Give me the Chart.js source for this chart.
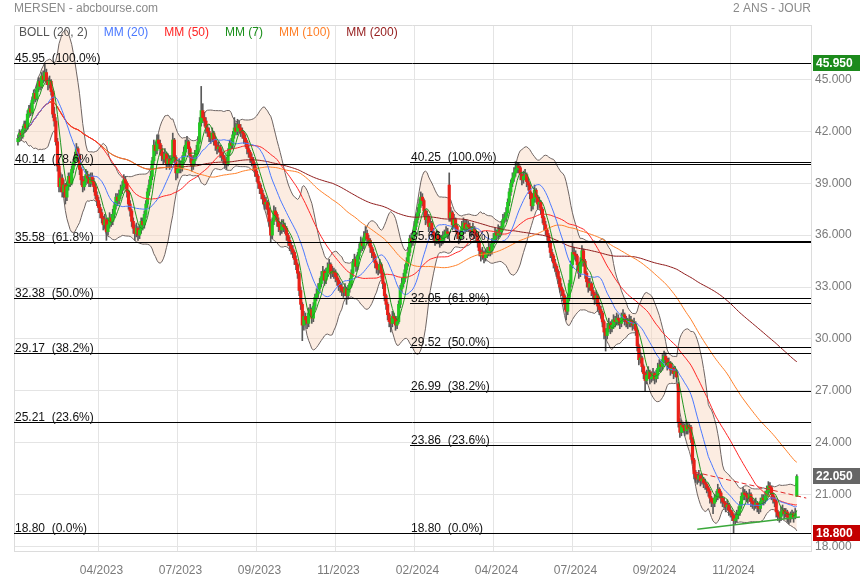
<!DOCTYPE html>
<html>
<head>
<meta charset="utf-8">
<script src="https://cdn.jsdelivr.net/npm/chart.js@4.4.1/dist/chart.umd.min.js"></script>
<style>
  html, body { margin: 0; padding: 0; background: #fff; }
  canvas { display: block; }
</style>
</head>
<body>
<canvas id="chart" width="860" height="580"></canvas>
<script>
// Axis ticks: bar index of each month tick and its label
const tickBars = [51, 101, 151, 201, 251, 301, 351, 401, 451];
const tickLabels = ['04/2023', '07/2023', '09/2023', '11/2023', '02/2024', '04/2024', '07/2024', '09/2024', '11/2024'];
const yTicks = [18, 21, 24, 27, 30, 33, 36, 39, 42, 45];

// Daily candles: [open, high, low, close]
const ohlc = [
  [41.4,41.8,41.2,41.6],[41.6,42.1,41.4,41.9],[41.9,42.0,41.5,41.7],[41.7,42.3,41.6,42.1],[42.1,42.6,41.9,42.4],[42.4,42.6,42.0,42.2],[42.2,43.2,42.1,43.0],[43.0,43.5,42.8,43.3],[43.3,43.6,42.9,43.1],[43.1,44.0,43.0,43.8],
  [43.8,44.4,43.6,44.2],[44.2,44.4,43.7,43.9],[43.9,44.7,43.8,44.5],[44.5,45.1,44.3,44.9],[44.9,45.1,44.4,44.6],[44.6,45.4,44.5,45.2],[45.2,45.5,44.8,45.0],[45.0,45.95,44.9,45.4],[45.4,45.6,44.7,44.9],[44.9,45.1,44.4,44.7],
  [44.7,45.2,44.5,44.9],[44.9,45.0,44.1,44.3],[44.3,44.4,42.8,43.0],[43.0,43.4,42.3,42.6],[42.6,42.8,41.2,41.4],[41.4,41.6,39.7,40.0],[40.0,40.2,38.5,38.8],[38.8,39.6,38.5,39.3],[39.3,39.5,38.2,38.5],[38.5,39.2,38.2,38.9],
  [38.9,39.0,37.8,38.2],[38.2,39.0,38.0,38.8],[38.8,39.6,38.6,39.4],[39.4,39.6,38.8,39.0],[39.0,40.0,38.9,39.8],[39.8,40.4,39.6,40.2],[40.2,40.8,40.0,40.5],[40.5,41.3,40.3,41.0],[41.0,41.1,40.3,40.6],[40.6,40.7,39.5,39.8],
  [39.8,39.9,38.9,39.2],[39.2,39.4,38.5,38.8],[38.8,39.4,38.6,39.1],[39.1,39.8,38.9,39.5],[39.5,39.7,39.0,39.3],[39.3,39.5,38.8,39.0],[39.0,39.6,38.8,39.4],[39.4,39.6,38.9,39.1],[39.1,39.3,38.5,38.8],[38.8,39.0,38.1,38.3],
  [38.3,38.5,37.7,38.0],[38.0,38.2,37.3,37.6],[37.6,37.8,37.0,37.3],[37.3,37.5,36.7,37.0],[37.0,37.1,36.3,36.6],[36.6,37.2,36.4,36.9],[36.9,37.0,35.7,36.2],[36.2,36.9,36.0,36.6],[36.6,37.3,36.4,37.0],[37.0,37.2,36.5,36.8],
  [36.8,37.5,36.6,37.2],[37.2,37.9,37.0,37.7],[37.7,38.4,37.5,38.2],[38.2,38.4,37.7,38.0],[38.0,38.6,37.8,38.3],[38.3,38.9,38.1,38.6],[38.6,39.1,38.4,38.8],[38.8,39.5,38.6,39.2],[39.2,39.4,38.7,39.0],[39.0,39.1,38.2,38.5],
  [38.5,38.6,37.5,37.8],[37.8,38.0,37.1,37.4],[37.4,37.5,36.5,36.8],[36.8,37.0,36.1,36.4],[36.4,36.6,35.7,36.1],[36.1,36.7,35.9,36.4],[36.4,36.5,35.7,36.0],[36.0,36.6,35.8,36.3],[36.3,37.0,36.1,36.8],[36.8,37.0,36.3,36.6],
  [36.6,37.4,36.4,37.2],[37.2,38.0,37.0,37.8],[37.8,38.7,37.6,38.5],[38.5,39.2,38.3,38.9],[38.9,39.7,38.7,39.4],[39.4,40.5,39.2,40.3],[40.3,41.5,40.1,41.2],[41.2,41.4,40.6,40.9],[40.9,41.8,40.7,41.5],[41.5,41.8,41.0,41.3],
  [41.3,41.5,40.7,41.0],[41.0,41.2,40.3,40.6],[40.6,40.8,40.1,40.4],[40.4,41.0,40.2,40.7],[40.7,40.8,39.8,40.1],[40.1,40.7,39.9,40.4],[40.4,40.6,39.8,40.1],[40.1,40.6,39.9,40.3],[40.3,41.9,40.2,41.5],[41.5,41.6,40.2,40.5],
  [40.5,40.6,39.2,39.6],[39.6,40.1,39.3,39.8],[39.8,40.4,39.6,40.1],[40.1,40.3,39.6,39.9],[39.9,40.6,39.7,40.3],[40.3,41.1,40.1,40.8],[40.8,41.5,40.6,41.2],[41.2,41.7,41.0,41.4],[41.4,41.5,40.7,41.0],[41.0,41.1,40.2,40.5],
  [40.5,40.6,39.7,40.0],[40.0,40.6,39.8,40.3],[40.3,40.9,40.1,40.6],[40.6,41.2,40.4,40.9],[40.9,41.7,40.7,41.4],[41.4,42.8,41.3,42.5],[42.5,44.6,42.3,43.2],[43.2,43.6,42.5,42.8],[42.8,43.1,42.3,42.6],[42.6,42.8,41.9,42.2],
  [42.2,42.4,41.7,42.0],[42.0,42.2,41.4,41.7],[41.7,41.9,41.3,41.6],[41.6,42.2,41.4,41.9],[41.9,42.0,41.2,41.5],[41.5,41.7,40.9,41.2],[41.2,41.4,40.7,41.0],[41.0,41.4,40.8,41.1],[41.1,41.2,40.5,40.8],[40.8,41.0,40.3,40.6],
  [40.6,40.8,40.1,40.4],[40.4,40.6,39.9,40.2],[40.2,40.5,39.8,40.1],[40.1,41.0,40.0,40.8],[40.8,41.5,40.6,41.3],[41.3,41.6,41.0,41.2],[41.2,42.0,41.0,41.8],[41.8,42.8,41.6,42.2],[42.2,42.5,41.8,42.0],[42.0,42.7,41.8,42.4],
  [42.4,42.6,41.9,42.2],[42.2,42.4,41.7,42.0],[42.0,42.2,41.6,41.9],[41.9,42.0,41.3,41.6],[41.6,41.8,41.1,41.4],[41.4,41.5,40.7,41.0],[41.0,41.2,40.5,40.8],[40.8,40.9,40.2,40.5],[40.5,40.7,40.0,40.3],[40.3,40.5,39.8,40.1],
  [40.1,40.2,39.4,39.7],[39.7,39.9,39.1,39.4],[39.4,39.5,38.7,39.0],[39.0,39.1,38.4,38.7],[38.7,38.9,38.1,38.4],[38.4,38.6,37.8,38.1],[38.1,38.3,37.5,37.8],[37.8,38.2,37.5,37.9],[37.9,38.0,37.2,37.5],[37.5,37.6,36.5,36.8],
  [36.8,36.9,35.6,36.0],[36.0,37.0,35.8,36.8],[36.8,37.7,36.6,37.4],[37.4,37.6,36.9,37.2],[37.2,37.3,36.5,36.8],[36.8,37.0,36.2,36.5],[36.5,36.7,36.0,36.3],[36.3,36.9,36.1,36.6],[36.6,36.9,36.2,36.5],[36.5,36.7,36.1,36.4],
  [36.4,36.5,35.7,36.0],[36.0,36.1,35.4,35.7],[35.7,35.9,35.1,35.4],[35.4,35.6,34.9,35.2],[35.2,35.4,34.7,35.0],[35.0,35.1,34.3,34.6],[34.6,34.8,34.0,34.3],[34.3,34.4,33.5,33.8],[33.8,33.9,32.5,32.8],[32.8,33.0,31.7,32.0],
  [32.0,32.1,29.9,30.8],[30.8,31.6,30.5,31.3],[31.3,31.5,30.8,31.1],[31.1,31.3,30.6,30.9],[30.9,31.8,30.7,31.5],[31.5,32.0,31.3,31.7],[31.7,31.8,30.9,31.2],[31.2,32.1,31.0,31.9],[31.9,32.6,31.7,32.4],[32.4,32.9,32.2,32.6],
  [32.6,33.2,32.4,32.9],[32.9,33.5,32.7,33.2],[33.2,33.9,33.0,33.6],[33.6,34.2,33.4,33.9],[33.9,34.0,33.1,33.4],[33.4,34.1,33.2,33.8],[33.8,34.4,33.6,34.1],[34.1,34.6,33.9,34.3],[34.3,34.4,33.5,33.8],[33.8,34.2,33.6,33.9],
  [33.9,34.1,33.5,33.8],[33.8,34.0,33.3,33.6],[33.6,33.8,33.1,33.4],[33.4,33.5,32.8,33.1],[33.1,33.3,32.7,33.0],[33.0,33.2,32.5,32.8],[32.8,33.0,32.4,32.7],[32.7,33.2,32.5,32.9],[32.9,33.0,32.0,32.5],[32.5,33.1,32.3,32.9],
  [32.9,33.5,32.7,33.2],[33.2,34.0,33.0,33.8],[33.8,34.6,33.6,34.4],[34.4,34.9,34.2,34.6],[34.6,34.7,33.9,34.2],[34.2,35.0,34.0,34.8],[34.8,35.5,34.6,35.2],[35.2,35.9,35.0,35.6],[35.6,35.8,35.1,35.4],[35.4,36.2,35.2,35.9],
  [35.9,36.5,35.7,36.1],[36.1,36.3,35.5,35.8],[35.8,36.0,35.4,35.7],[35.7,35.8,35.0,35.3],[35.3,35.4,34.7,35.0],[35.0,35.2,34.5,34.8],[34.8,34.9,34.1,34.4],[34.4,34.5,33.8,34.1],[34.1,34.3,33.7,34.0],[34.0,34.6,33.8,34.3],
  [34.3,34.4,33.5,33.8],[33.8,33.9,32.9,33.2],[33.2,33.3,32.2,32.5],[32.5,32.6,31.7,32.0],[32.0,32.1,31.1,31.4],[31.4,31.5,30.7,31.0],[31.0,31.2,30.4,30.9],[30.9,31.6,30.7,31.3],[31.3,31.5,30.9,31.2],[31.2,31.3,30.5,30.8],
  [30.8,31.3,30.6,31.0],[31.0,32.2,30.9,32.0],[32.0,33.1,31.8,32.9],[32.9,33.5,32.7,33.2],[33.2,33.8,33.0,33.5],[33.5,34.3,33.3,34.0],[34.0,34.7,33.8,34.4],[34.4,35.3,34.2,35.0],[35.0,36.0,34.8,35.8],[35.8,36.1,35.3,35.6],
  [35.6,36.3,35.4,36.0],[36.0,36.8,35.8,36.5],[36.5,37.2,36.3,36.9],[36.9,37.6,36.7,37.3],[37.3,38.1,37.1,37.8],[37.8,38.5,37.6,38.2],[38.2,38.4,37.7,38.0],[38.0,38.1,37.1,37.4],[37.4,37.5,36.6,36.9],[36.9,37.4,36.7,37.1],
  [37.1,37.2,36.2,36.5],[36.5,37.0,36.3,36.7],[36.7,36.8,35.9,36.2],[36.2,36.4,35.7,36.0],[36.0,36.1,35.4,35.7],[35.7,36.3,35.5,36.0],[36.0,36.2,35.5,35.8],[35.8,36.0,35.3,35.6],[35.6,36.0,35.4,35.7],[35.7,36.2,35.5,35.9],
  [35.9,36.3,35.7,36.0],[36.0,36.5,35.9,36.2],[36.2,36.4,35.8,36.1],[38.9,39.6,36.8,37.0],[37.0,37.6,36.8,37.3],[37.3,37.4,36.3,36.6],[36.6,37.2,36.4,36.9],[36.9,37.0,36.2,36.5],[36.5,36.6,35.8,36.1],[36.1,36.2,35.5,35.8],
  [35.8,36.3,35.6,36.0],[36.0,36.8,35.8,36.5],[36.5,37.0,36.3,36.7],[36.7,36.9,36.1,36.4],[36.4,36.9,36.2,36.6],[36.6,36.8,36.2,36.5],[36.5,36.7,36.0,36.3],[36.3,36.5,35.9,36.2],[36.2,36.7,36.0,36.4],[36.4,36.5,35.8,36.1],
  [36.1,36.3,35.7,36.0],[36.0,36.1,35.3,35.6],[35.6,35.7,34.8,35.1],[35.1,35.2,34.5,34.8],[34.8,35.3,34.6,35.0],[35.0,35.1,34.4,34.7],[34.7,35.2,34.5,34.9],[34.9,35.3,34.7,35.0],[35.0,35.6,34.8,35.3],[35.3,35.5,34.8,35.1],
  [35.1,35.8,34.9,35.5],[35.5,36.1,35.3,35.8],[35.8,36.4,35.6,36.1],[36.1,36.3,35.7,36.0],[36.0,36.6,35.8,36.3],[36.3,36.5,35.9,36.2],[36.2,36.8,36.0,36.5],[36.5,37.2,36.3,36.9],[36.9,37.3,36.7,37.0],[37.0,37.6,36.8,37.3],
  [37.3,38.1,37.1,37.9],[37.9,38.7,37.7,38.5],[38.5,39.2,38.3,39.0],[39.0,39.6,38.8,39.3],[39.3,39.9,39.1,39.6],[39.6,40.25,39.4,39.8],[39.8,40.2,39.6,40.0],[40.0,40.2,39.6,39.9],[39.9,40.0,39.2,39.5],[39.5,39.6,38.9,39.2],
  [39.2,39.7,39.0,39.4],[39.4,39.8,39.2,39.5],[39.5,39.6,38.8,39.1],[39.1,39.3,38.6,38.9],[38.9,39.0,38.1,38.4],[38.4,38.5,37.4,37.7],[37.7,38.4,37.5,38.1],[38.1,38.9,37.9,38.6],[38.6,38.7,37.9,38.2],[38.2,38.3,37.5,37.8],
  [37.8,38.2,37.6,37.9],[37.9,38.0,37.2,37.5],[37.5,37.6,36.7,37.0],[37.0,37.1,36.3,36.6],[36.6,36.8,36.0,36.3],[36.3,36.4,35.7,36.0],[36.0,36.1,35.3,35.6],[35.6,35.7,34.7,35.0],[35.0,35.2,34.5,34.8],[34.8,34.9,34.1,34.4],
  [34.4,34.6,33.9,34.2],[34.2,34.3,33.6,33.9],[33.9,34.0,33.2,33.5],[33.5,33.6,32.7,33.0],[33.0,33.2,32.5,32.8],[32.8,32.9,32.2,32.5],[32.5,32.6,31.7,32.0],[32.0,32.1,31.1,31.6],[31.6,32.6,31.4,32.4],[32.4,33.4,32.2,33.2],
  [33.2,34.5,33.0,34.3],[34.3,35.6,34.1,35.0],[35.0,35.3,34.6,34.9],[34.9,35.1,34.5,34.8],[34.8,34.9,34.0,34.3],[34.3,34.4,33.5,33.8],[33.8,34.7,33.6,34.4],[34.4,35.4,34.2,35.1],[35.1,35.2,34.2,34.5],[34.5,34.6,33.5,33.8],
  [33.8,33.9,33.0,33.3],[33.3,33.5,32.7,33.0],[33.0,33.5,32.8,33.2],[33.2,33.3,32.5,32.8],[32.8,33.0,32.3,32.6],[32.6,32.7,32.0,32.3],[32.3,32.8,32.1,32.5],[32.5,32.6,31.6,31.9],[31.9,32.1,31.4,31.7],[31.7,31.9,31.2,31.5],
  [31.5,31.6,30.7,31.0],[31.0,31.1,30.0,30.4],[30.4,30.6,29.3,30.2],[30.2,30.9,30.0,30.6],[30.6,31.2,30.4,30.9],[30.9,31.0,30.3,30.6],[30.6,31.1,30.4,30.8],[30.8,31.4,30.6,31.1],[31.1,31.3,30.7,31.0],[31.0,31.5,30.8,31.2],
  [31.2,31.4,30.8,31.1],[31.1,31.2,30.6,30.9],[30.9,31.5,30.7,31.2],[31.2,31.7,31.0,31.4],[31.4,31.5,30.8,31.1],[31.1,31.3,30.7,31.0],[31.0,31.2,30.6,30.9],[30.9,31.4,30.7,31.1],[31.1,31.3,30.7,31.0],[31.0,31.1,30.5,30.8],
  [30.8,31.2,30.6,30.9],[30.9,31.0,30.2,30.5],[30.5,30.6,29.3,29.6],[29.6,29.7,28.5,28.8],[28.8,29.2,28.6,28.9],[28.9,29.0,28.1,28.4],[28.4,28.5,27.7,28.0],[28.0,28.1,27.0,27.6],[27.6,28.2,27.4,27.9],[27.9,28.4,27.7,28.1],
  [28.1,28.2,27.4,27.7],[27.7,28.1,27.5,27.8],[27.8,28.3,27.6,28.0],[28.0,28.1,27.4,27.7],[27.7,28.2,27.5,27.9],[27.9,28.6,27.7,28.3],[28.3,28.8,28.1,28.5],[28.5,28.7,28.1,28.4],[28.4,29.1,28.2,28.8],[28.8,29.3,28.6,29.0],
  [29.0,29.2,28.5,28.8],[28.8,28.9,28.2,28.5],[28.5,28.9,28.3,28.6],[28.6,28.7,27.9,28.2],[28.2,28.6,28.0,28.3],[28.3,28.4,27.7,28.0],[28.0,28.4,27.8,28.1],[28.1,28.2,27.5,27.8],[27.4,27.5,24.9,25.2],[25.2,25.4,24.3,24.6],
  [24.6,25.3,24.4,25.0],[25.0,25.2,24.6,24.9],[24.9,25.1,24.4,24.7],[24.7,25.3,24.5,25.0],[25.0,25.2,24.5,24.8],[24.8,25.1,24.6,24.9],[24.9,25.0,24.0,24.2],[24.2,24.3,22.8,23.0],[23.0,23.1,21.9,22.2],[22.2,22.4,21.7,22.0],
  [22.0,22.2,21.6,21.9],[21.9,22.4,21.7,22.1],[22.1,22.2,21.5,21.8],[21.8,22.2,21.6,21.9],[21.9,22.0,21.4,21.7],[21.7,21.9,21.3,21.6],[21.6,21.7,21.1,21.4],[21.4,21.5,20.9,21.2],[21.2,21.3,20.5,20.8],[20.8,20.9,20.3,20.6],
  [20.6,20.8,19.9,20.5],[20.5,21.0,20.3,20.8],[20.8,21.2,20.6,20.9],[20.9,21.6,20.7,21.3],[21.3,21.4,20.8,21.1],[21.1,21.2,20.5,20.8],[20.8,20.9,20.3,20.6],[20.6,20.8,20.2,20.5],[20.5,20.6,20.0,20.3],[20.3,20.7,20.1,20.4],
  [20.4,20.5,19.8,20.1],[20.1,20.3,19.7,20.0],[20.0,20.1,19.5,19.8],[19.8,19.9,18.8,19.5],[19.5,19.9,19.3,19.6],[19.6,20.1,19.4,19.8],[19.8,20.3,19.6,20.0],[20.0,20.6,19.8,20.4],[20.4,21.1,20.2,20.9],[20.9,21.4,20.7,21.1],
  [21.1,21.3,20.7,21.0],[21.0,21.2,20.6,20.9],[20.9,21.1,20.5,20.8],[20.8,21.3,20.6,21.0],[21.0,21.1,20.3,20.6],[20.6,20.8,20.2,20.5],[20.5,20.7,20.1,20.4],[20.4,20.8,20.2,20.5],[20.5,20.6,20.0,20.3],[20.3,20.5,19.9,20.2],
  [20.2,20.8,20.0,20.6],[20.6,21.0,20.4,20.8],[20.8,21.0,20.4,20.7],[20.7,21.2,20.5,20.9],[20.9,21.5,20.7,21.2],[21.2,21.75,21.0,21.5],[21.5,21.7,21.1,21.4],[21.4,21.5,20.7,21.0],[21.0,21.1,20.5,20.8],[20.8,20.9,20.3,20.6],
  [20.6,20.7,19.7,20.0],[20.0,20.1,19.5,19.8],[19.8,20.0,19.4,19.7],[19.7,20.3,19.5,20.0],[20.0,20.4,19.8,20.1],[20.1,20.2,19.6,19.9],[19.9,20.2,19.7,20.0],[20.0,20.1,19.4,19.7],[19.7,19.9,19.3,19.6],[19.6,20.0,19.4,19.8],
  [19.8,20.1,19.6,19.9],[19.9,20.0,19.4,19.7],[19.7,20.2,19.6,19.9],[20.9,22.15,20.9,22.05]
];

// Fibonacci retracements
const fibPcts = ['100.0%', '78.6%', '61.8%', '50.0%', '38.2%', '23.6%', '0.0%'];
const fibLevels1 = [45.95, 40.14, 35.58, 32.38, 29.17, 25.21, 18.80];
const fibLevels2 = [40.25, 35.66, 32.05, 29.52, 26.99, 23.86, 18.80];
const fib2StartBar = 248;

// Hand-drawn trend lines: [bar, price]
const greenTrend = [[430, 19.0], [495, 19.7]];
const redTrend = [[428.5, 22.3], [499, 20.8]];

// Price tags on the right axis
const priceTags = [[45.95, '#1c8a1c'], [22.05, '#666666'], [18.80, '#c40000']];

const FONT = '"Liberation Sans", Arial, sans-serif';
const X_MIN = -2.5, X_MAX = 502;

const closes = ohlc.map(d => d[3]);

// moving average over the bars available so far (short windows at the start)
function sma(period) {
  return closes.map((c, i) => {
    const s = Math.max(0, i - period + 1);
    let t = 0;
    for (let k = s; k <= i; k++) t += closes[k];
    return t / (i - s + 1);
  });
}

function bollinger(period, mult) {
  const mid = sma(period);
  const up = [], lo = [];
  closes.forEach((c, i) => {
    const s = Math.max(0, i - period + 1);
    let v = 0;
    for (let k = s; k <= i; k++) v += (closes[k] - mid[i]) ** 2;
    const sd = Math.sqrt(v / (i - s + 1));
    up.push(mid[i] + mult * sd);
    lo.push(mid[i] - mult * sd);
  });
  return { up, lo };
}

const pts = arr => arr.map((v, i) => ({ x: i, y: v }));
const bb = bollinger(20, 2);

function line(label, data, color, order, extra) {
  return Object.assign({
    type: 'line', label, data, borderColor: color, borderWidth: 1,
    pointRadius: 0, fill: false, tension: 0, order
  }, extra || {});
}

const legendItems = [
  ['BOLL (20, 2)', '#555555'],
  ['MM (20)', '#4a78ff'],
  ['MM (50)', '#ff2424'],
  ['MM (7)', '#1a8f1a'],
  ['MM (100)', '#ff7f27'],
  ['MM (200)', '#962020']
];

const decor = {
  id: 'decor',
  beforeDatasetsDraw(chart) {
    const { ctx, chartArea: a } = chart;
    ctx.save();
    ctx.strokeStyle = '#dcdcdc';
    ctx.lineWidth = 1;
    ctx.beginPath();
    ctx.moveTo(a.left + 0.5, a.bottom);
    ctx.lineTo(a.left + 0.5, a.top + 0.5);
    ctx.lineTo(a.right, a.top + 0.5);
    ctx.stroke();
    ctx.restore();
  },
  afterDatasetsDraw(chart) {
    const { ctx, chartArea: a, scales: { x, y } } = chart;
    ctx.save();
    ctx.font = '12px ' + FONT;
    ctx.fillStyle = '#111';
    ctx.strokeStyle = '#000';
    ctx.lineWidth = 1;
    ctx.textAlign = 'left';
    ctx.textBaseline = 'alphabetic';
    const drawSet = (levels, fromBar) => {
      const x0 = fromBar == null ? a.left : Math.round(x.getPixelForValue(fromBar));
      levels.forEach((v, k) => {
        const py = Math.round(y.getPixelForValue(v)) + 0.5;
        ctx.beginPath();
        ctx.moveTo(x0, py);
        ctx.lineTo(a.right, py);
        ctx.stroke();
        ctx.fillText(v.toFixed(2) + '  (' + fibPcts[k] + ')', x0 + 1, py - 2);
      });
    };
    drawSet(fibLevels1, null);
    drawSet(fibLevels2, fib2StartBar);
    ctx.restore();
  },
  afterDraw(chart) {
    const { ctx, chartArea: a, scales: { y } } = chart;
    ctx.save();
    ctx.font = '12px ' + FONT;
    ctx.textBaseline = 'middle';
    ctx.fillStyle = '#8a8a8a';
    ctx.textAlign = 'left';
    ctx.fillText('MERSEN - abcbourse.com', 14, 9);
    ctx.textAlign = 'right';
    ctx.fillText('2 ANS - JOUR', a.right, 9);

    ctx.textAlign = 'left';
    let lx = 19;
    legendItems.forEach(([txt, col]) => {
      ctx.fillStyle = col;
      ctx.fillText(txt, lx, 33);
      lx += ctx.measureText(txt).width + 16;
    });

    ctx.font = 'bold 12px ' + FONT;
    priceTags.forEach(([v, bg]) => {
      const py = Math.round(y.getPixelForValue(v));
      ctx.fillStyle = bg;
      ctx.fillRect(a.right + 2, py - 8, 860 - a.right - 2, 16);
      ctx.fillStyle = '#fff';
      ctx.fillText(v.toFixed(3), a.right + 5, py + 0.5);
    });
    ctx.restore();
  }
};

const datasets = [
  line('MM (7)', pts(sma(7)), '#1f951f', 1),
  line('MM (20)', pts(sma(20)), '#4a78ff', 1),
  line('MM (50)', pts(sma(50)), '#ff2424', 1),
  line('MM (100)', pts(sma(100)), '#ff7f27', 1),
  line('MM (200)', pts(sma(200)), '#8e1a1a', 1),
  line('support', greenTrend.map(([bx, v]) => ({ x: bx, y: v })), '#3aa83a', 0, { borderWidth: 1.5 }),
  line('résistance', redTrend.map(([bx, v]) => ({ x: bx, y: v })), '#e02828', 0, { borderDash: [5, 3] }),
  {
    type: 'bar', label: 'corps',
    data: ohlc.map((d, i) => ({ x: i, y: [d[0], d[3]] })),
    backgroundColor: ohlc.map(d => d[3] >= d[0] ? '#22c822' : '#ea2018'),
    barThickness: 2.5, grouped: false, minBarLength: 1, order: 2
  },
  {
    type: 'bar', label: 'mèches',
    data: ohlc.map((d, i) => ({ x: i, y: [d[2], d[1]] })),
    backgroundColor: '#5a5a5a',
    barThickness: 1, grouped: false, order: 3
  },
  line('BOLL haut', pts(bb.up), '#6e6462', 4),
  line('BOLL bas', pts(bb.lo), '#6e6462', 4, { fill: '-1', backgroundColor: 'rgba(249,212,188,0.45)' })
];

new Chart(document.getElementById('chart'), {
  type: 'bar',
  data: { datasets },
  options: {
    responsive: false,
    animation: false,
    layout: { padding: { left: 14, top: 25, right: 0, bottom: 0 } },
    plugins: { legend: { display: false }, tooltip: { enabled: false } },
    scales: {
      x: {
        type: 'linear', min: X_MIN, max: X_MAX, offset: false,
        grid: { color: '#e4e4e4', drawTicks: false, offset: false },
        border: { color: '#dcdcdc' },
        afterBuildTicks: s => { s.ticks = tickBars.map(v => ({ value: v })); },
        afterFit: s => { s.height = 29; },
        ticks: {
          autoSkip: false, maxRotation: 0, padding: 12, labelOffset: 3,
          color: '#7a7a7a', font: { size: 12, family: FONT },
          callback: v => tickLabels[tickBars.indexOf(v)] || ''
        }
      },
      y: {
        type: 'linear', position: 'right', min: 17.74, max: 48.15,
        grid: { color: '#e4e4e4', drawTicks: false },
        border: { color: '#dcdcdc' },
        afterBuildTicks: s => { s.ticks = yTicks.map(v => ({ value: v })); },
        afterFit: s => { s.width = 49; },
        ticks: {
          padding: 4, color: '#7a7a7a', font: { size: 12, family: FONT },
          callback: v => Number(v).toFixed(3)
        }
      }
    }
  },
  plugins: [decor]
});
</script>
</body>
</html>
